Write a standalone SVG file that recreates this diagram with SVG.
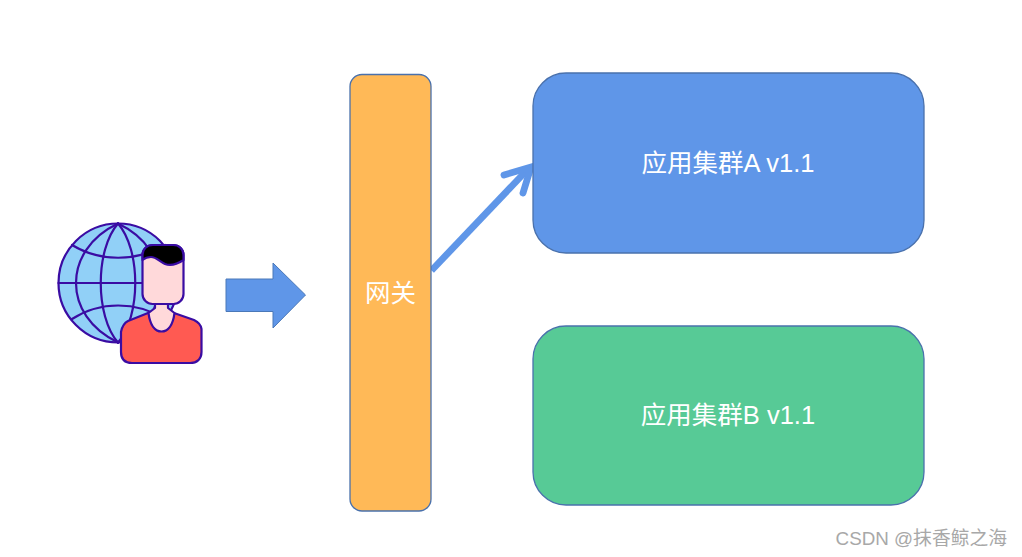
<svg xmlns="http://www.w3.org/2000/svg" width="1022" height="557" viewBox="0 0 1022 557">
<style>
.t{font-family:"Liberation Sans","Noto Sans CJK SC",sans-serif;fill:#fff;font-size:25.500px;text-anchor:middle}
.box{stroke:#4a71ac;stroke-width:1.3}
.u{stroke:#3a0ca3;stroke-width:2.200;stroke-linejoin:round;stroke-linecap:round}
.g{fill:none}
</style>
<rect width="1022" height="557" fill="#fff"/>
<g id="user">
<circle class="u" cx="118" cy="283" r="59.500" fill="#91d0f7"/>
<g class="u g">
<path d="M58.500 283H177.500"/>
<path d="M118 223.500C62 250 62 316 118 342.500"/>
<path d="M118 223.500C174 250 174 316 118 342.500"/>
<path d="M118 223.500C95 250 95 316 118 342.500"/>
<path d="M118 223.500C141 250 141 316 118 342.500"/>
<path d="M72 245C100 262 136 262 165 245"/>
<path d="M72 319C100 301 136 301 165 319"/>
</g>
<path class="u" d="M121 332C122 327 124 323 128 321L148 313H174L194 320C198 322 201 325 201.500 329V352C201.500 359 197 363 190 363H132C125 363 121 359 121 352Z" fill="#ff5a52"/>
<path class="u" d="M155 302V308L148.500 313C150 325 155 331.500 161.500 331.500C168 331.500 173 325 174.500 313L168 308V302Z" fill="#ffd9da"/>
<rect class="u" x="142.500" y="245" width="41" height="59" rx="10" fill="#ffd9da"/>
<path class="u" d="M142.500 260V255C142.500 249 147 245 153 245H173C179 245 183.500 249 183.500 255V260C176 265 170 266 165 264C159 261 156 257 151 257C147 257 145 258 142.500 260Z" fill="#000"/>
</g>
<g id="connectors">
<path d="M226 279H273V263L305.500 295L273 328V311.500H226Z" fill="#5f96e8" stroke="#4a78b8" stroke-width="1"/>
<g fill="none" stroke="#5f96e8" stroke-width="6.800" stroke-linecap="round">
<path d="M431.500 270.500L529 168" stroke-linecap="butt"/>
<path d="M504 175L531 167L523 193" stroke-linejoin="miter"/>
</g>
</g>
<g id="gateway">
<rect class="box" x="350" y="74.500" width="81" height="436.500" rx="12" fill="#ffb957"/>
<text class="t" x="390.500" y="302">网关</text>
</g>
<g id="clusterA">
<rect class="box" x="533" y="73" width="391" height="180" rx="33" fill="#5f96e8"/>
<text class="t" x="728" y="172">应用集群A v1.1</text>
</g>
<g id="clusterB">
<rect class="box" x="533" y="326" width="391" height="179" rx="33" fill="#57ca96"/>
<text class="t" x="728" y="424">应用集群B v1.1</text>
</g>
<text id="watermark" x="1007" y="545" text-anchor="end" font-family="'Liberation Sans','Noto Sans CJK SC',sans-serif" font-size="18.800" fill="#a8a8a8">CSDN @抹香鲸之海</text>
</svg>
